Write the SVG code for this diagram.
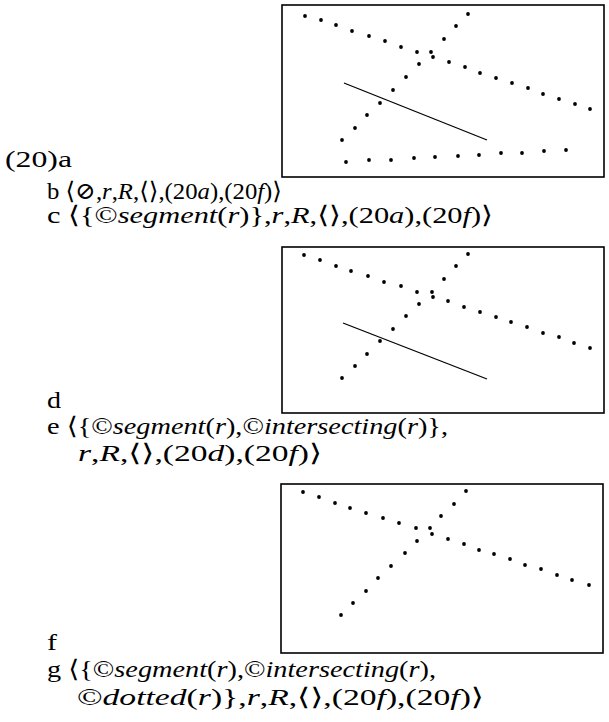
<svg xmlns="http://www.w3.org/2000/svg" width="609" height="722" viewBox="0 0 609 722">
<style>
.bx{fill:none;stroke:#000;stroke-width:1.6}
.d{fill:#000}
.sl{stroke:#000;stroke-width:1.3;fill:none}
text{font-family:"Liberation Serif","DejaVu Serif",serif;font-size:24px;fill:#000}
.i{font-style:italic}
</style>
<rect width="609" height="722" fill="#fff"/>
<g id="fig-a">
<rect class="bx" x="282" y="5" width="322" height="172"/>
<g class="d">
<circle cx="305" cy="16" r="1.9"/><circle cx="321" cy="20" r="1.9"/><circle cx="336" cy="25" r="1.9"/><circle cx="352" cy="31" r="1.9"/><circle cx="369" cy="36" r="1.9"/><circle cx="385" cy="41" r="1.9"/><circle cx="401" cy="47" r="1.9"/><circle cx="417" cy="52" r="1.9"/><circle cx="433" cy="57" r="1.9"/><circle cx="449" cy="62" r="1.9"/><circle cx="465" cy="67" r="1.9"/><circle cx="480" cy="73" r="1.9"/><circle cx="496" cy="78" r="1.9"/><circle cx="512" cy="83" r="1.9"/><circle cx="528" cy="88" r="1.9"/><circle cx="543" cy="94" r="1.9"/><circle cx="559" cy="99" r="1.9"/><circle cx="575" cy="104" r="1.9"/><circle cx="590" cy="109" r="1.9"/>
<circle cx="342" cy="140" r="1.9"/><circle cx="355" cy="128" r="1.9"/><circle cx="367" cy="115" r="1.9"/><circle cx="380" cy="103" r="1.9"/><circle cx="393" cy="90" r="1.9"/><circle cx="406" cy="77" r="1.9"/><circle cx="419" cy="64" r="1.9"/><circle cx="431" cy="52" r="1.9"/><circle cx="444" cy="39" r="1.9"/><circle cx="456" cy="26" r="1.9"/><circle cx="468" cy="14" r="1.9"/>
<circle cx="346" cy="162" r="1.9"/><circle cx="369" cy="160" r="1.9"/><circle cx="391" cy="160" r="1.9"/><circle cx="414" cy="158" r="1.9"/><circle cx="435" cy="157" r="1.9"/><circle cx="458" cy="156" r="1.9"/><circle cx="479" cy="155" r="1.9"/><circle cx="501" cy="153" r="1.9"/><circle cx="522" cy="153" r="1.9"/><circle cx="544" cy="151" r="1.9"/><circle cx="566" cy="150" r="1.9"/>
</g>
<line class="sl" x1="344" y1="83" x2="487" y2="140"/>
</g>
<g id="fig-d">
<rect class="bx" x="282" y="247" width="322" height="166"/>
<g class="d">
<circle cx="304" cy="255" r="1.9"/><circle cx="320" cy="260" r="1.9"/><circle cx="336" cy="266" r="1.9"/><circle cx="351" cy="271" r="1.9"/><circle cx="368" cy="276" r="1.9"/><circle cx="384" cy="282" r="1.9"/><circle cx="401" cy="286" r="1.9"/><circle cx="417" cy="292" r="1.9"/><circle cx="433" cy="297" r="1.9"/><circle cx="448" cy="301" r="1.9"/><circle cx="464" cy="307" r="1.9"/><circle cx="480" cy="312" r="1.9"/><circle cx="496" cy="317" r="1.9"/><circle cx="511" cy="322" r="1.9"/><circle cx="527" cy="327" r="1.9"/><circle cx="543" cy="333" r="1.9"/><circle cx="559" cy="337" r="1.9"/><circle cx="574" cy="343" r="1.9"/><circle cx="590" cy="348" r="1.9"/>
<circle cx="342" cy="378" r="1.9"/><circle cx="355" cy="366" r="1.9"/><circle cx="367" cy="354" r="1.9"/><circle cx="380" cy="341" r="1.9"/><circle cx="393" cy="329" r="1.9"/><circle cx="406" cy="316" r="1.9"/><circle cx="419" cy="304" r="1.9"/><circle cx="432" cy="292" r="1.9"/><circle cx="444" cy="279" r="1.9"/><circle cx="456" cy="266" r="1.9"/><circle cx="468" cy="254" r="1.9"/>
</g>
<line class="sl" x1="343" y1="323" x2="487" y2="379"/>
</g>
<g id="fig-f">
<rect class="bx" x="281" y="484" width="322" height="169"/>
<g class="d">
<circle cx="303" cy="492" r="1.9"/><circle cx="319" cy="497" r="1.9"/><circle cx="335" cy="503" r="1.9"/><circle cx="350" cy="508" r="1.9"/><circle cx="366" cy="513" r="1.9"/><circle cx="383" cy="518" r="1.9"/><circle cx="399" cy="523" r="1.9"/><circle cx="416" cy="528" r="1.9"/><circle cx="432" cy="534" r="1.9"/><circle cx="448" cy="539" r="1.9"/><circle cx="464" cy="544" r="1.9"/><circle cx="479" cy="550" r="1.9"/><circle cx="494" cy="554" r="1.9"/><circle cx="510" cy="559" r="1.9"/><circle cx="525" cy="565" r="1.9"/><circle cx="541" cy="569" r="1.9"/><circle cx="557" cy="575" r="1.9"/><circle cx="572" cy="580" r="1.9"/><circle cx="589" cy="585" r="1.9"/>
<circle cx="341" cy="615" r="1.9"/><circle cx="353" cy="603" r="1.9"/><circle cx="366" cy="591" r="1.9"/><circle cx="378" cy="578" r="1.9"/><circle cx="391" cy="566" r="1.9"/><circle cx="405" cy="553" r="1.9"/><circle cx="417" cy="541" r="1.9"/><circle cx="430" cy="528" r="1.9"/><circle cx="441" cy="516" r="1.9"/><circle cx="454" cy="504" r="1.9"/><circle cx="466" cy="491" r="1.9"/>
</g>
</g>
<g id="labels">
<text x="5" y="167" textLength="67" lengthAdjust="spacingAndGlyphs">(20)a</text>
<text x="47" y="199" textLength="235" lengthAdjust="spacingAndGlyphs">b  ⟨⊘,<tspan class="i">r</tspan>,<tspan class="i">R</tspan>,⟨⟩,(20<tspan class="i">a</tspan>),(20<tspan class="i">f</tspan>)⟩</text>
<text x="47" y="223" textLength="446" lengthAdjust="spacingAndGlyphs">c  ⟨{©<tspan class="i">segment</tspan>(<tspan class="i">r</tspan>)},<tspan class="i">r</tspan>,<tspan class="i">R</tspan>,⟨⟩,(20<tspan class="i">a</tspan>),(20<tspan class="i">f</tspan>)⟩</text>
<text x="47" y="408" textLength="14" lengthAdjust="spacingAndGlyphs">d</text>
<text x="47" y="434" textLength="401" lengthAdjust="spacingAndGlyphs">e  ⟨{©<tspan class="i">segment</tspan>(<tspan class="i">r</tspan>),©<tspan class="i">intersecting</tspan>(<tspan class="i">r</tspan>)},</text>
<text x="78" y="461" textLength="244" lengthAdjust="spacingAndGlyphs"><tspan class="i">r</tspan>,<tspan class="i">R</tspan>,⟨⟩,(20<tspan class="i">d</tspan>),(20<tspan class="i">f</tspan>)⟩</text>
<text x="47" y="650" textLength="10" lengthAdjust="spacingAndGlyphs">f</text>
<text x="47" y="677" textLength="389" lengthAdjust="spacingAndGlyphs">g  ⟨{©<tspan class="i">segment</tspan>(<tspan class="i">r</tspan>),©<tspan class="i">intersecting</tspan>(<tspan class="i">r</tspan>),</text>
<text x="77" y="705" textLength="407" lengthAdjust="spacingAndGlyphs">©<tspan class="i">dotted</tspan>(<tspan class="i">r</tspan>)},<tspan class="i">r</tspan>,<tspan class="i">R</tspan>,⟨⟩,(20<tspan class="i">f</tspan>),(20<tspan class="i">f</tspan>)⟩</text>
</g>
</svg>
